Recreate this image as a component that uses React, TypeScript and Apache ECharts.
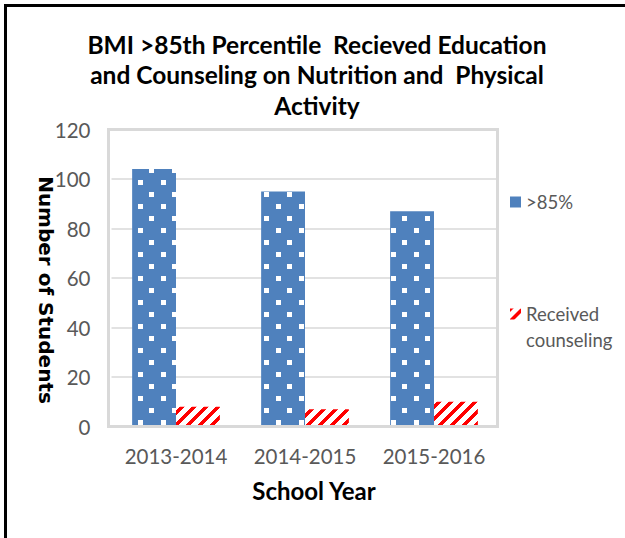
import React, { useEffect, useRef } from "react";
import * as echarts from "echarts";

const categories = ["2013-2014", "2014-2015", "2015-2016"];
const above85 = [104, 95, 87];
const receivedCounseling = [8, 7, 10];
const seriesNames = [">85%", "Received counseling"];
const legendLines = ["Received", "counseling"];
const titleText = "BMI >85th Percentile  Recieved Education\nand Counseling on Nutrition and  Physical\nActivity";
const yAxisTitle = "Number of Students";
const xAxisTitle = "School Year";

const FONT = "Lato, 'Liberation Sans', sans-serif";

// diagonal "/" stripe rows (period 12px, stripe 5px) for the red decal
function stripeRows(): number[][] {
  const rows: number[][] = [];
  for (let i = 0; i < 12; i++) {
    const o = 11 - i;
    if (o <= 7) rows.push([0, o, 5, 7 - o]);
    else rows.push([o - 7, 7, 12 - o, 0]);
  }
  return rows;
}

export default function App() {
  const ref = useRef<HTMLDivElement>(null);
  useEffect(() => {
    if (!ref.current) return;
    const chart = echarts.init(ref.current, null, { renderer: "svg" });
    chart.setOption({
      animation: false,
      backgroundColor: "#ffffff",
      title: {
        text: titleText,
        left: 312,
        top: 24,
        textAlign: "center",
        textStyle: {
          fontFamily: FONT,
          fontWeight: "bold",
          fontSize: 24.5,
          lineHeight: 30.5,
          color: "#000000",
        },
      },
      graphic: [
        {
          type: "polyline",
          shape: { points: [[5.5, 538], [5.5, 5.5], [625, 5.5]] },
          style: { stroke: "#000000", lineWidth: 3, fill: null },
          z: 100,
        },
        {
          type: "rect",
          shape: { x: 108.5, y: 129.5, width: 389, height: 297 },
          style: { stroke: "#d9d9d9", lineWidth: 3, fill: null },
          z: 50,
        },
        {
          type: "text",
          x: 526,
          y: 340,
          style: {
            text: legendLines[1],
            font: "18.5px Lato, 'Liberation Sans', sans-serif",
            fill: "#595959",
            verticalAlign: "middle",
            align: "left",
          },
        },
      ],
      legend: {
        orient: "vertical",
        left: 505,
        top: 184.5,
        itemGap: 87,
        itemWidth: 11,
        itemHeight: 11,
        icon: "rect",
        data: [{ name: seriesNames[0] }, { name: seriesNames[1] }],
        formatter: (n: string) => (n === seriesNames[1] ? legendLines[0] : n),
        textStyle: {
          fontFamily: FONT,
          fontSize: 18.5,
          lineHeight: 25,
          color: "#595959",
        },
      },
      grid: {
        left: 111.5,
        right: 126.5,
        top: 129.5,
        bottom: 111.5,
        show: false,
      },
      xAxis: {
        type: "category",
        data: categories,
        axisLine: { show: false },
        axisTick: { show: false },
        axisLabel: {
          interval: 0,
          fontFamily: FONT,
          fontSize: 20.5,
          color: "#595959",
          margin: 19,
        },
        name: xAxisTitle,
        nameLocation: "middle",
        nameGap: 52,
        nameMoveOverlap: false,
        nameTextStyle: {
          fontFamily: FONT,
          fontWeight: "bold",
          fontSize: 24,
          color: "#000000",
          padding: [0, 0, 0, 18],
        },
      },
      yAxis: {
        type: "value",
        min: 0,
        max: 120,
        interval: 20,
        axisLine: { show: false },
        axisTick: { show: false },
        splitLine: { lineStyle: { color: "#d9d9d9", width: 1.5 } },
        axisLabel: {
          fontFamily: FONT,
          fontSize: 20.5,
          color: "#595959",
          margin: 21,
        },
        name: yAxisTitle,
        nameLocation: "middle",
        nameRotate: -90,
        nameGap: 56,
        nameMoveOverlap: false,
        nameTextStyle: {
          fontFamily: "'DejaVu Sans', sans-serif",
          fontWeight: "bold",
          fontSize: 20,
          color: "#000000",
          padding: [0, 0, 0, 24],
        },
      },
      series: [
        {
          name: seriesNames[0],
          type: "bar",
          data: above85,
          barGap: "0%",
          barCategoryGap: "32%",
          itemStyle: {
            color: "#4f81bd",
            decal: {
              symbol: "rect",
              symbolSize: 1,
              color: "#ffffff",
              dashArrayX: [[5, 18], [0, 11, 5, 7]],
              dashArrayY: [5, 7],
              rotation: 0,
            },
          },
        },
        {
          name: seriesNames[1],
          type: "bar",
          data: receivedCounseling,
          itemStyle: {
            color: "#ffffff",
            decal: {
              symbol: "rect",
              symbolSize: 1,
              color: "#ff0000",
              dashArrayX: stripeRows(),
              dashArrayY: [1, 0],
              rotation: 0,
            },
          },
        },
      ],
    });
    return () => chart.dispose();
  }, []);
  return (
    <div
      ref={ref}
      style={{ position: "fixed", left: 0, top: 0, width: 625, height: 538 }}
    />
  );
}
